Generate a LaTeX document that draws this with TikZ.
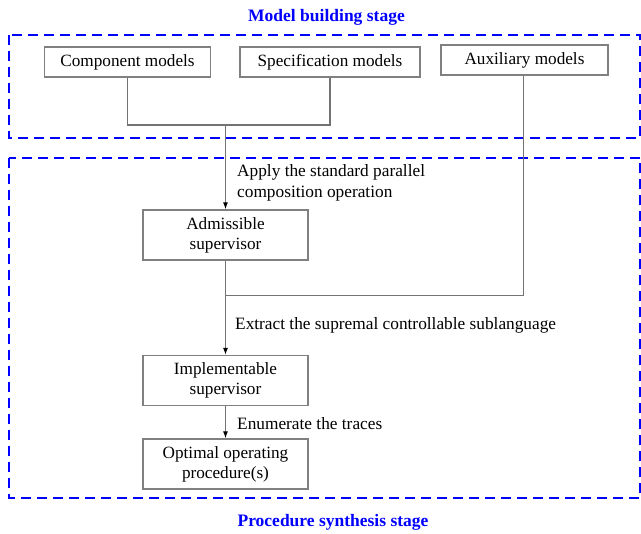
\documentclass[tikz,border=0pt]{standalone}
\usepackage{fontspec}
\setmainfont{Liberation Serif}
\usetikzlibrary{arrows.meta}
\begin{document}
\begin{tikzpicture}[x=1pt,y=-1pt,
  box/.style={draw=black!50,line width=1.2pt,minimum width=#1,minimum height=30pt,inner sep=1pt,align=center,font=\fontsize{17.2}{20}\selectfont},
  box/.default=166pt,
  tallbox/.style={box=165pt,minimum height=50pt},
  lbl/.style={anchor=west,inner sep=0pt,align=left,font=\fontsize{17.3}{21}\selectfont},
  stage/.style={draw=blue,line width=2.4pt,dash pattern=on 10pt off 6pt},
  title/.style={text=blue,font=\fontsize{17.5}{20}\selectfont\bfseries},
  conn/.style={draw=black!55,line width=1.2pt},
  arr/.style={conn,-{Latex[length=7pt,width=5pt,black]}}]
\useasboundingbox (0,0) rectangle (641,534);
\fill[white] (0,0) rectangle (641,534);
% stages
\node[title] (t1) at (326.5,17.5) {Model building stage};
\node[title] (t2) at (333,522.5) {Procedure synthesis stage};
\draw[stage] (9,35) rectangle (640.5,138);
\draw[stage] (9,158) rectangle (640.5,498);
% model boxes
\node[box=166pt] (comp) at (127.5,62) {Component models};
\node[box=180pt] (spec) at (330,62) {Specification models};
\node[box=167pt] (aux) at (524.5,60) {Auxiliary models};
% synthesis boxes
\node[tallbox] (adm) at (225.5,235) {Admissible\\supervisor};
\node[tallbox] (impl) at (225.5,380.5) {Implementable\\supervisor};
\node[tallbox] (opt) at (225.5,464) {Optimal operating\\procedure(s)};
% coordinates
\coordinate (j1) at (225.5,125);
\coordinate (j2) at (225.5,295.5);
\coordinate (auxc) at (523.5,295.5);
% connectors
\draw[conn] (comp.south) |- (j1) -| (spec.south);
\draw[arr] (j1) -- (adm.north);
\draw[conn] (aux.south -| auxc) -- (auxc) -- (j2);
\draw[arr] (adm.south) -- (impl.north);
\draw[arr] (impl.south) -- (opt.north);
% labels
\node[lbl] (l1) at (237,182.5) {Apply the standard parallel\\composition operation};
\node[lbl] (l2) at (235,325) {Extract the supremal controllable sublanguage};
\node[lbl] (l3) at (237,424) {Enumerate the traces};
\end{tikzpicture}
\end{document}
